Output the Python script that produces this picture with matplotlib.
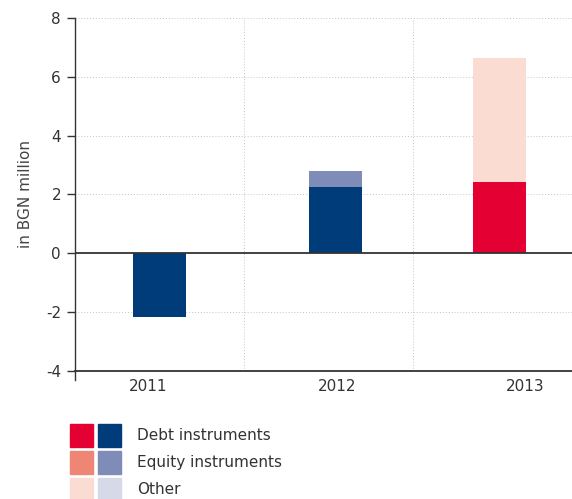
import matplotlib.pyplot as plt
from matplotlib.patches import Rectangle

years = ['2011', '2012', '2013']
debt = [-2.17, 2.26, 2.41]
equity = [0.0, 0.53, 0.0]
other = [0.0, 0.0, 4.22]

# 2013 is shown in the red palette, earlier years in blue
blues = ['#003B7A', '#7E8CB7', '#D6DAE8']
reds = ['#E40032', '#EF8575', '#FBDCD2']

bar_x = [0.51, 1.57, 2.56]
label_x = [0.44, 1.58, 2.72]
bar_w = 0.32

plt.rcParams['font.family'] = ['DejaVu Sans']
plt.rcParams['axes.unicode_minus'] = False

fig = plt.figure(figsize=(5.72, 4.99), dpi=100)
ax = fig.add_axes([0.131, 0.2565, 0.869, 0.7075])

for i in range(len(years)):
    pal = reds if years[i] == '2013' else blues
    ax.bar(bar_x[i], debt[i], bar_w, color=pal[0], zorder=2)
    base = max(debt[i], 0)
    ax.bar(bar_x[i], equity[i], bar_w, bottom=base, color=pal[1], zorder=2)
    base += equity[i]
    ax.bar(bar_x[i], other[i], bar_w, bottom=base, color=pal[2], zorder=2)

ax.set_xlim(0, 3)
ax.set_ylim(-4, 8)
ax.set_yticks(range(-4, 9, 2))
ax.set_xticks(label_x)
ax.set_xticklabels(years)

for y in [-2, 2, 4, 6, 8]:
    ax.axhline(y, color='#C4C4C4', lw=0.7, ls=(0, (1, 2)), zorder=1)
for x in [1.02, 2.04]:
    ax.axvline(x, color='#C4C4C4', lw=0.7, ls=(0, (1, 2)), zorder=1)
ax.axhline(0, color='#333333', lw=1.3, zorder=3)

for s in ['top', 'right']:
    ax.spines[s].set_visible(False)
ax.spines['left'].set_color('#333333')
ax.spines['bottom'].set_color('#333333')
ax.spines['left'].set_linewidth(1.0)
ax.spines['bottom'].set_linewidth(1.3)
ax.plot([0, 0], [-0.025, 0], transform=ax.transAxes, color='#333333',
        lw=1.0, clip_on=False)

fs = 11
ax.tick_params(axis='y', length=6, width=1.0, color='#333333',
               labelsize=fs, labelcolor='#333333', pad=4)
ax.tick_params(axis='x', length=0, labelsize=fs, labelcolor='#333333', pad=6)
ax.set_ylabel('in BGN million', fontsize=fs, color='#444444', labelpad=9)

# legend: one red and one blue swatch per component
W, H = 572, 499
names = ['Debt instruments', 'Equity instruments', 'Other']
for k in range(3):
    top = 424 + k * 27
    for j, pal in enumerate([reds, blues]):
        fig.patches.append(Rectangle(((70 + j * 28) / W, 1 - (top + 23) / H),
                                     23 / W, 23 / H, color=pal[k],
                                     transform=fig.transFigure))
    fig.text(137 / W, 1 - (top + 12) / H, names[k], fontsize=fs,
             color='#333333', va='center')

fig.savefig('out.png', dpi=100)
